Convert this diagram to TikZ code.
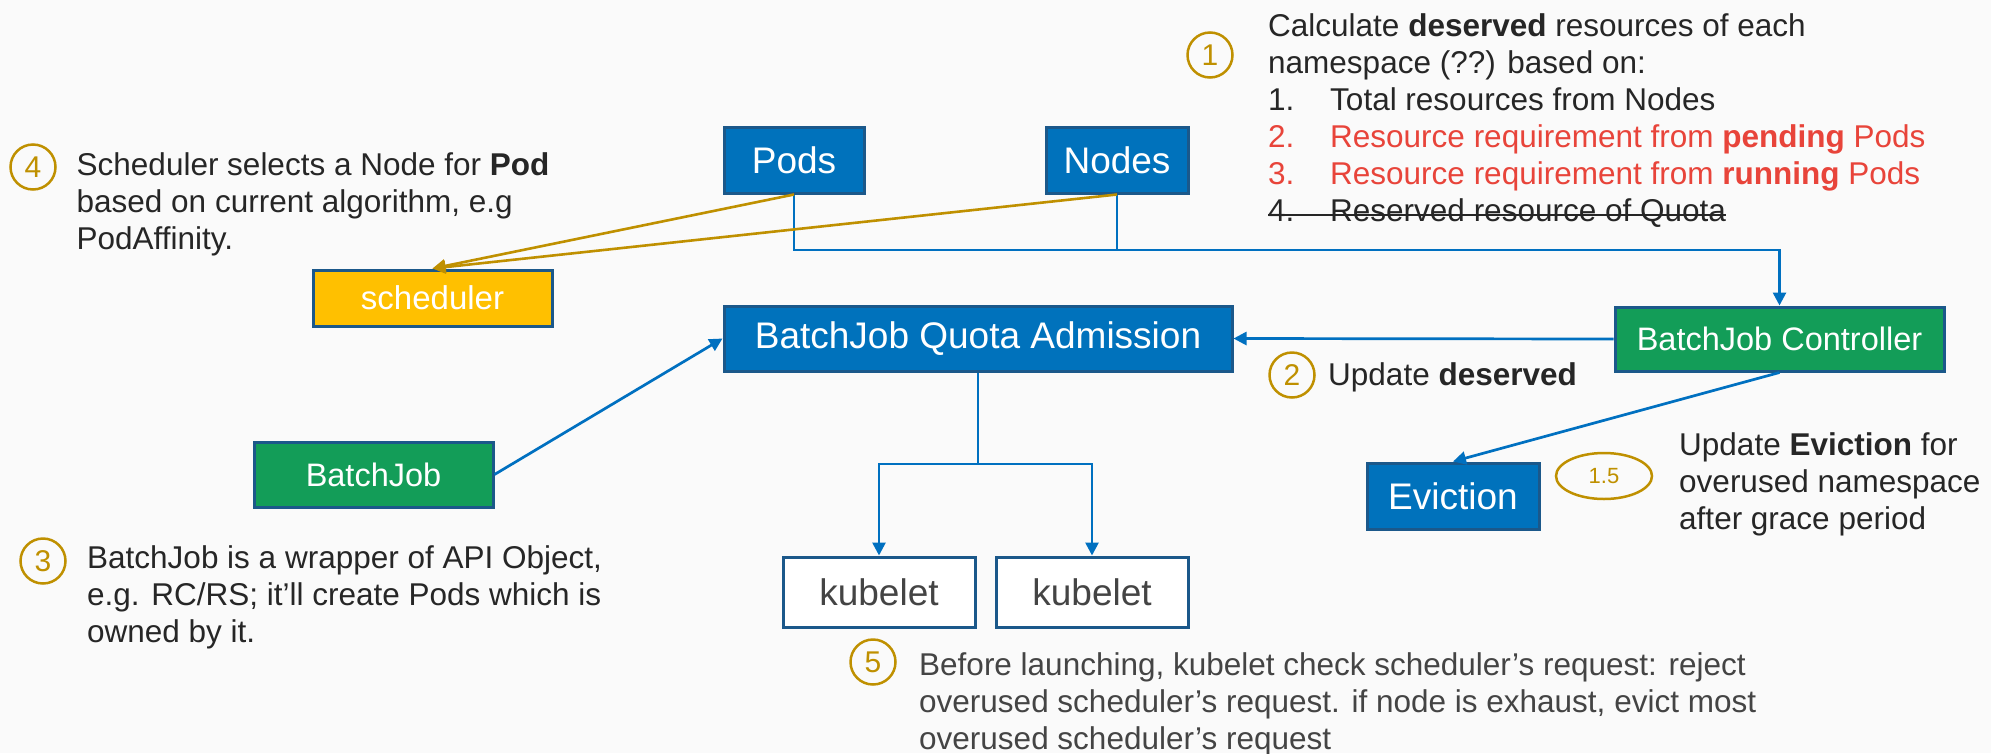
\documentclass[tikz,border=0pt]{standalone}
\usepackage{fontspec}
\setmainfont{Liberation Sans}
\usetikzlibrary{arrows.meta,shapes.geometric}

\definecolor{bg}{RGB}{250,250,250}
\definecolor{boxblue}{RGB}{0,114,188}
\definecolor{edgeblue}{RGB}{27,88,138}
\definecolor{boxgreen}{RGB}{19,157,88}
\definecolor{boxyellow}{RGB}{255,192,0}
\definecolor{gold}{RGB}{191,144,0}
\definecolor{ink}{RGB}{38,38,38}
\definecolor{greyink}{RGB}{68,68,68}
\definecolor{alert}{RGB}{232,68,58}
\definecolor{wireblue}{RGB}{0,112,192}

% text with a line drawn through it
\newsavebox\strikebox
\newcommand\struckline[1]{\sbox\strikebox{#1}\rlap{\usebox\strikebox}\rule[5pt]{\wd\strikebox}{2.2pt}}
% left-aligned block whose baseline is the first line
\newcommand\lines[1]{\begin{tabular}[t]{@{}l@{}}#1\end{tabular}}

\begin{document}
\begin{tikzpicture}[x=1pt,y=-1pt,
  box/.style={draw=edgeblue, line width=3pt, inner sep=0pt, text=white,
    font=\fontsize{37}{40}\selectfont},
  bluebox/.style={box, fill=boxblue},
  greenbox/.style={box, fill=boxgreen, font=\fontsize{32.5}{36}\selectfont},
  yellowbox/.style={box, fill=boxyellow, font=\fontsize{33}{36}\selectfont},
  plainbox/.style={box, fill=white, text=greyink},
  note/.style={anchor=base west, inner sep=0pt, text=ink,
    font=\fontsize{31.5}{37}\selectfont},
  badge/.style={circle, draw=gold, line width=2.5pt, minimum size=45pt,
    inner sep=0pt, text=gold, font=\fontsize{30}{30}\selectfont},
  wire/.style={draw=wireblue, line width=2.7pt},
  goldwire/.style={draw=gold, line width=2.6pt},
  tip/.style={-{Triangle[length=13pt,width=13pt]}},
]
\useasboundingbox[fill=bg] (0,0) rectangle (1991,753);

% ---- boxes ----
\node[bluebox, minimum width=140pt, minimum height=66pt] (pods) at (794,160) {Pods};
\node[bluebox, minimum width=142pt, minimum height=66pt] (nodes) at (1117,160) {Nodes};
\node[yellowbox, minimum width=239pt, minimum height=56pt] (sched) at (432.5,298) {scheduler};
\node[bluebox, minimum width=508pt, minimum height=65pt] (adm) at (978,338.5) {BatchJob Quota Admission};
\node[greenbox, minimum width=329pt, minimum height=64pt] (ctrl) at (1779.5,339) {BatchJob Controller};
\node[greenbox, minimum width=239pt, minimum height=65pt] (bjob) at (373.5,474.5) {BatchJob};
\node[bluebox, minimum width=172pt, minimum height=66pt] (evict) at (1453,496) {Eviction};
\node[plainbox, minimum width=192pt, minimum height=70pt] (kub1) at (879,592) {kubelet};
\node[plainbox, minimum width=192pt, minimum height=70pt] (kub2) at (1092,592) {kubelet};

% ---- junction points ----
\coordinate (busy) at (0,250);
\coordinate (split) at (978,464);

% ---- connectors ----
\draw[wire, tip] (pods.south) -- (pods.south |- busy) -| (ctrl.north);
\draw[wire] (nodes.south) -- (nodes.south |- busy);
\draw[goldwire, tip] (pods.south) -- (sched.north);
\draw[goldwire, tip] (nodes.south) -- (sched.north);
\draw[wire, tip] (ctrl.west) -- (adm.east);
\draw[wire, tip] (bjob.east) -- (adm.west);
\draw[wire] (adm.south) -- (split);
\draw[wire, tip] (split) -| (kub1.north);
\draw[wire, tip] (split) -| (kub2.north);
\draw[wire, tip] (ctrl.south) -- (evict.north);

% ---- numbered notes ----
\node[badge] (b1) at (1210,55) {1};
\node[note] (t1) at (1268,36) {\lines{Calculate \textbf{deserved} resources of each\\
  namespace (??) based on:\\
  \makebox[62pt][l]{1.}Total resources from Nodes\\
  \color{alert}\makebox[62pt][l]{2.}Resource requirement from \textbf{pending} Pods\\
  \color{alert}\makebox[62pt][l]{3.}Resource requirement from \textbf{running} Pods\\
  \struckline{\makebox[62pt][l]{4.}Reserved resource of Quota}}};

\node[badge] (b4) at (33,167) {4};
\node[note] (t4) at (76.5,175) {\lines{Scheduler selects a Node for \textbf{Pod}\\
  based on current algorithm, e.g\\PodAffinity.}};

\node[badge] (b2) at (1292,375) {2};
\node[note] (t2) at (1328,385) {Update \textbf{deserved}};

\node[badge] (b3) at (43,561) {3};
\node[note] (t3) at (87,568) {\lines{BatchJob is a wrapper of API Object,\\
  e.g. RC/RS; it’ll create Pods which is\\owned by it.}};

\node[badge] (b5) at (873,662) {5};
\node[note, text=greyink] (t5) at (919,675) {\lines{Before launching, kubelet check scheduler’s request: reject\\
  overused scheduler’s request. if node is exhaust, evict most\\
  overused scheduler’s request}};

\node[ellipse, draw=gold, line width=2.5pt, minimum width=96pt, minimum height=46pt,
  inner sep=0pt, text=gold, font=\fontsize{22}{22}\selectfont] (b15) at (1604,476) {1.5};
\node[note] (t15) at (1679,455) {\lines{Update \textbf{Eviction} for\\
  overused namespace\\after grace period}};
\end{tikzpicture}
\end{document}
